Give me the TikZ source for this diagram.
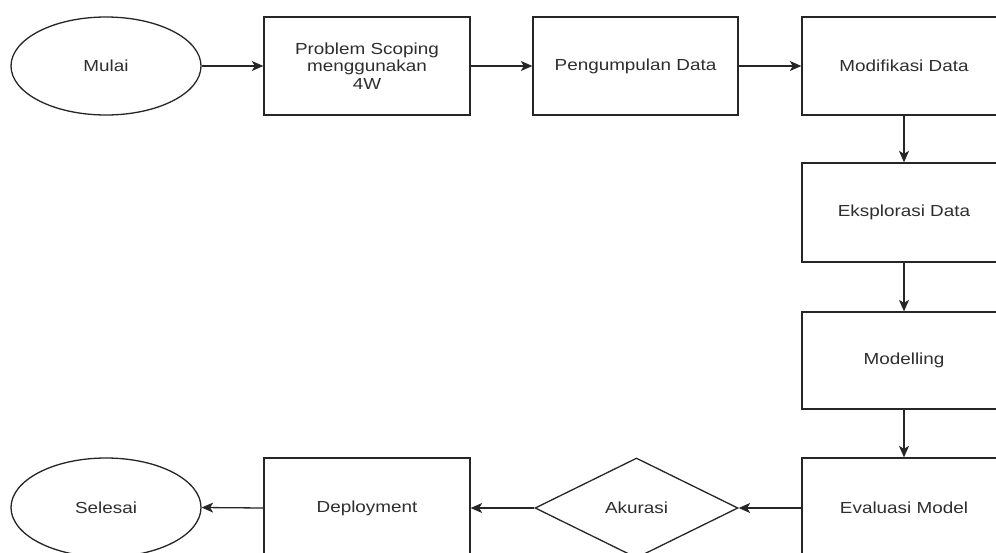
\documentclass[tikz,border=0pt]{standalone}
\usepackage{fontspec}
\setmainfont{Liberation Sans}
\usetikzlibrary{shapes.geometric,arrows.meta}
\newcommand{\sx}[1]{\scalebox{1.18}[1]{#1}}
\begin{document}
\begin{tikzpicture}[x=1pt,y=-1pt,
  line width=1.3pt,
  base/.style={draw=black!85, inner sep=0pt, text=black!82,
    font=\fontsize{16}{17.5}\selectfont, align=center},
  boxnode/.style={base, rectangle, minimum width=205pt, minimum height=98pt},
  endnode/.style={base, ellipse, minimum width=190pt, minimum height=98pt},
  decnode/.style={base, diamond, minimum width=203pt, minimum height=100pt},
  arr/.style={draw=black!85, -{Stealth[length=11.5pt,width=10pt,inset=3pt]}}]
\useasboundingbox (0,0) rectangle (996,552);
\fill[white] (0,0) rectangle (996,552);
\clip (0,0) rectangle (996,552);
\node[endnode] (mulai) at (106,66) {\sx{Mulai}};
\node[boxnode, minimum width=206pt] (scope) at (367,66) {\sx{Problem Scoping}\\ \sx{menggunakan}\\ \sx{4W}};
\node[boxnode] (kumpul) at (635.5,66) {\sx{Pengumpulan Data}};
\node[boxnode, minimum width=204pt] (modif) at (904,66) {\sx{Modifikasi Data}};
\node[boxnode, minimum width=204pt, minimum height=99pt] (eksplor) at (904,212.5) {\sx{Eksplorasi Data}};
\node[boxnode, minimum width=204pt, minimum height=97pt] (model) at (904,360.5) {\sx{Modelling}};
\node[boxnode, minimum width=204pt, minimum height=100pt] (eval) at (904,508) {\sx{Evaluasi Model}};
\node[decnode] (akurasi) at (636.5,508) {\sx{Akurasi}};
\node[boxnode, minimum width=206pt, minimum height=100pt] (deploy) at (367,508) {\sx{Deployment}};
\node[endnode, minimum height=99pt] (selesai) at (106,507.5) {\sx{Selesai}};
\draw[arr] (mulai) -- (scope);
\draw[arr] (scope) -- (kumpul);
\draw[arr] (kumpul) -- (modif);
\draw[arr] (modif) -- (eksplor);
\draw[arr] (eksplor) -- (model);
\draw[arr] (model) -- (eval);
\draw[arr] (eval) -- (akurasi);
\draw[arr] (akurasi) -- (deploy);
\draw[arr] (deploy.west) -- (selesai.east);
\end{tikzpicture}
\end{document}
